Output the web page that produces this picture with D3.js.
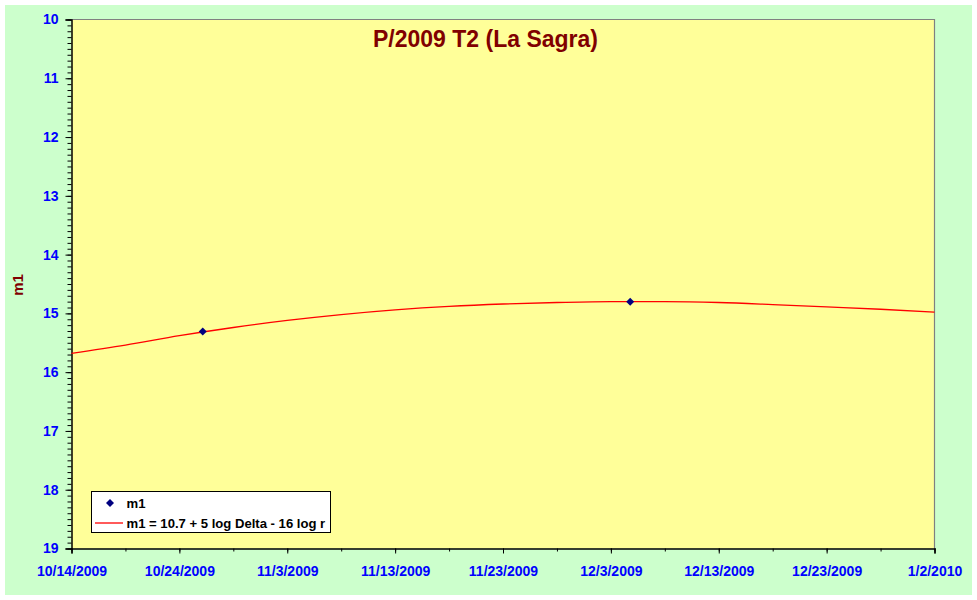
<!DOCTYPE html>
<html>
<head>
<meta charset="utf-8">
<script src="https://cdn.jsdelivr.net/npm/d3@7"></script>
<style>
html,body{margin:0;padding:0;background:#fff;}
svg{display:block;font-family:"Liberation Sans",Arial,sans-serif;}
</style>
</head>
<body>
<svg id="chart" width="977" height="600"></svg>
<script>
// ---- data ----
const titleText = "P/2009 T2 (La Sagra)";
const yTitle = "m1";
const xTickLabels = ["10/14/2009","10/24/2009","11/3/2009","11/13/2009","11/23/2009","12/3/2009","12/13/2009","12/23/2009","1/2/2010"];
const yTickLabels = [10,11,12,13,14,15,16,17,18,19];
const curveDates = ["2009-10-14","2009-10-19","2009-10-24","2009-10-29","2009-11-03","2009-11-08","2009-11-13","2009-11-18","2009-11-23","2009-11-28","2009-12-03","2009-12-08","2009-12-13","2009-12-18","2009-12-23","2009-12-28","2010-01-02"];
const curveMag = [15.68,15.54,15.38,15.24,15.12,15.02,14.94,14.88,14.84,14.815,14.80,14.80,14.815,14.85,14.89,14.93,14.98];
const obsDates = ["2009-10-26T04:00","2009-12-04T19:00"];
const obsMag = [15.31,14.80];
const legendLabels = ["m1","m1 = 10.7 + 5 log Delta - 16 log r"];

// ---- setup ----
const svg = d3.select("#chart");
const parseDay = d3.timeParse("%Y-%m-%d");
const parseDT = d3.timeParse("%Y-%m-%dT%H:%M");
const parseLbl = d3.timeParse("%m/%d/%Y");
const L = 71.5, R = 934.5, T = 19.5, B = 548.5;

const x = d3.scaleTime().domain([parseLbl(xTickLabels[0]), parseLbl(xTickLabels[xTickLabels.length-1])]).range([L, R]);
const y = d3.scaleLinear().domain([10, 19]).range([T, B]);

// backgrounds
svg.append("rect").attr("x",5).attr("y",5).attr("width",967).attr("height",590).attr("fill","#CCFFCC");
svg.append("rect").attr("x",L).attr("y",T).attr("width",R-L).attr("height",B-T).attr("fill","#FFFF99");
// top/right border gray
svg.append("path").attr("d",`M${L},${T}H${R}V${B}`).attr("fill","none").attr("stroke","#808080").attr("stroke-width",1.2);

// y minor ticks
const yMinor = d3.range(100, 191).map(v => v/10);
svg.append("g").attr("transform",`translate(${L},0)`)
  .call(d3.axisLeft(y).tickValues(yMinor).tickSize(4).tickFormat(""))
  .call(g => g.select(".domain").remove())
  .selectAll("line").attr("stroke","#000");
// y major axis
const yAx = svg.append("g").attr("transform",`translate(${L},0)`)
  .call(d3.axisLeft(y).tickValues(yTickLabels).tickSize(6).tickPadding(7).tickFormat(d3.format("d")));
yAx.select(".domain").attr("stroke","#000").attr("stroke-width",1.5);
yAx.selectAll("line").attr("stroke","#000");
yAx.selectAll("text").attr("fill","#0000FF").attr("font-size","14px").attr("font-weight","bold")
  .attr("font-family","'Liberation Sans',Arial,sans-serif");

// x minor ticks (every 5 days)
const xMajorDates = xTickLabels.map(parseLbl);
const xMinorDates = d3.timeDay.range(xMajorDates[0], d3.timeDay.offset(xMajorDates[xMajorDates.length-1],1), 5);
svg.append("g").attr("transform",`translate(0,${B})`)
  .call(d3.axisBottom(x).tickValues(xMinorDates).tickSize(3).tickFormat(""))
  .call(g => g.select(".domain").remove())
  .selectAll("line").attr("stroke","#000");
const xAx = svg.append("g").attr("transform",`translate(0,${B})`)
  .call(d3.axisBottom(x).tickValues(xMajorDates).tickSize(5).tickPadding(13).tickFormat((d,i) => xTickLabels[i]));
xAx.select(".domain").attr("stroke","#000").attr("stroke-width",1.5);
xAx.selectAll("line").attr("stroke","#000");
xAx.selectAll("text").attr("fill","#0000FF").attr("font-size","14px").attr("font-weight","bold")
  .attr("font-family","'Liberation Sans',Arial,sans-serif");

// curve
const curveData = curveDates.map((d,i) => ({d: parseDay(d), m: curveMag[i]}));
svg.append("path").datum(curveData)
  .attr("d", d3.line().x(p => x(p.d)).y(p => y(p.m)).curve(d3.curveMonotoneX))
  .attr("fill","none").attr("stroke","#FF0000").attr("stroke-width",1.3);

// observations (square-ish diamond like Excel marker)
const diamond = "M0,-4L4,0L0,4L-4,0Z";
const obsData = obsDates.map((d,i) => ({d: parseDT(d), m: obsMag[i]}));
svg.append("g").selectAll("path").data(obsData).join("path")
  .attr("d", diamond)
  .attr("transform", p => `translate(${x(p.d)},${y(p.m)})`)
  .attr("fill","#000080");

// title
svg.append("text").attr("x",485.5).attr("y",47).attr("text-anchor","middle")
  .attr("font-size","23px").attr("font-weight","bold").attr("fill","#800000").text(titleText);
// y title
svg.append("text").attr("transform","translate(23,285) rotate(-90)").attr("text-anchor","middle")
  .attr("font-size","15px").attr("font-weight","bold").attr("fill","#800000").text(yTitle);

// legend
const lg = svg.append("g");
lg.append("rect").attr("x",91.5).attr("y",491.5).attr("width",239).attr("height",41)
  .attr("fill","#fff").attr("stroke","#000").attr("stroke-width",1);
lg.append("path").attr("d",diamond).attr("transform","translate(110,503)").attr("fill","#000080");
lg.append("text").attr("x",126.5).attr("y",507.5).attr("font-size","13.1px").attr("font-weight","bold").attr("fill","#000").text(legendLabels[0]);
lg.append("line").attr("x1",95).attr("x2",123).attr("y1",523).attr("y2",523).attr("stroke","#FF0000").attr("stroke-width",1.3);
lg.append("text").attr("x",126.5).attr("y",527.5).attr("font-size","13.1px").attr("font-weight","bold").attr("fill","#000").text(legendLabels[1]);
</script>
</body>
</html>
